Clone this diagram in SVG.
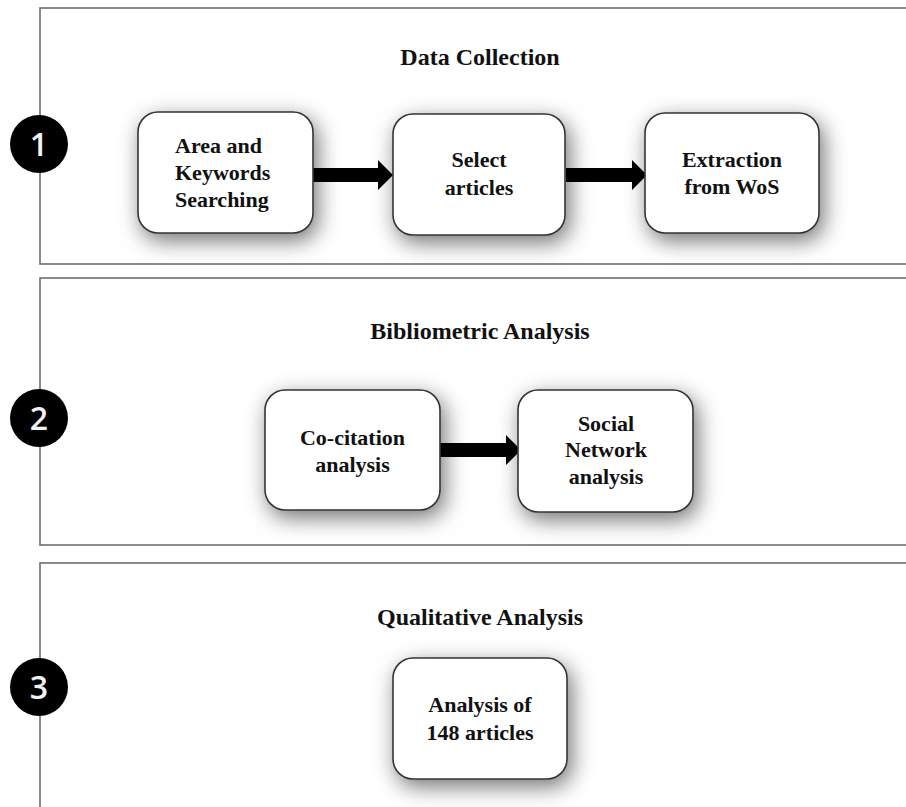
<svg xmlns="http://www.w3.org/2000/svg" width="906" height="807" viewBox="0 0 906 807">
<defs>
<filter id="sh" x="-50%" y="-50%" width="200%" height="200%">
<feDropShadow dx="4" dy="7" stdDeviation="11" flood-color="#000" flood-opacity="0.55"/>
</filter>
</defs>
<style>
.panel{fill:#fff;stroke:#6e6e6e;stroke-width:1.6}
.node{fill:#fff;stroke:#333;stroke-width:1.6}
.title{font-family:"Liberation Serif","Times New Roman",serif;font-weight:bold;font-size:24px;fill:#111;text-anchor:middle}
.lbl{font-family:"Liberation Serif","Times New Roman",serif;font-weight:bold;font-size:22px;fill:#111;text-anchor:middle}
.num{font-family:"Open Sans","DejaVu Sans",sans-serif;font-weight:600;font-size:32px;fill:#f2f2f2;text-anchor:middle}
.arr{fill:#000}
</style>
<rect width="906" height="807" fill="#fff"/>

<g id="panel1">
<rect class="panel" x="40" y="8" width="900" height="256"/>
<text class="title" x="480" y="65">Data Collection</text>
<circle cx="39" cy="144" r="29" fill="#000"/>
<text class="num" x="39" y="156">1</text>
</g>
<g id="panel2">
<rect class="panel" x="40" y="278" width="900" height="267"/>
<text class="title" x="480" y="339">Bibliometric Analysis</text>
<circle cx="39" cy="418" r="29" fill="#000"/>
<text class="num" x="39" y="430">2</text>
</g>
<g id="panel3">
<rect class="panel" x="40" y="563" width="900" height="300"/>
<text class="title" x="480" y="625">Qualitative Analysis</text>
<circle cx="39" cy="687" r="29" fill="#000"/>
<text class="num" x="39" y="699">3</text>
</g>

<g id="connectors">
<polygon class="arr" points="313,168 378,168 378,160 393,175 378,190 378,182 313,182"/>
<polygon class="arr" points="566,168 632,168 632,160 647,175 632,190 632,182 566,182"/>
<polygon class="arr" points="440,443 506,443 506,435 521,450 506,465 506,457 440,457"/>
</g>

<g id="area-keywords">
<rect class="node" x="138" y="112" width="175" height="121" rx="20" filter="url(#sh)"/>
<text class="lbl" style="text-anchor:start" x="175" y="153">Area and</text>
<text class="lbl" style="text-anchor:start" x="175" y="180">Keywords</text>
<text class="lbl" style="text-anchor:start" x="175" y="207">Searching</text>
</g>
<g id="select-articles">
<rect class="node" x="393" y="114" width="172" height="121" rx="20" filter="url(#sh)"/>
<text class="lbl" x="479" y="167">Select</text>
<text class="lbl" x="479" y="195">articles</text>
</g>
<g id="extraction">
<rect class="node" x="645" y="113" width="174" height="120" rx="20" filter="url(#sh)"/>
<text class="lbl" x="732" y="167">Extraction</text>
<text class="lbl" x="732" y="194">from WoS</text>
</g>
<g id="co-citation">
<rect class="node" x="265" y="390" width="175" height="120" rx="20" filter="url(#sh)"/>
<text class="lbl" x="352.5" y="445">Co-citation</text>
<text class="lbl" x="352.5" y="472">analysis</text>
</g>
<g id="social-network">
<rect class="node" x="518" y="390" width="175" height="122" rx="20" filter="url(#sh)"/>
<text class="lbl" x="606" y="431">Social</text>
<text class="lbl" x="606" y="457">Network</text>
<text class="lbl" x="606" y="484">analysis</text>
</g>
<g id="qualitative-node">
<rect class="node" x="393" y="658" width="174" height="121" rx="20" filter="url(#sh)"/>
<text class="lbl" x="480" y="712">Analysis of</text>
<text class="lbl" x="480" y="740">148 articles</text>
</g>
</svg>
